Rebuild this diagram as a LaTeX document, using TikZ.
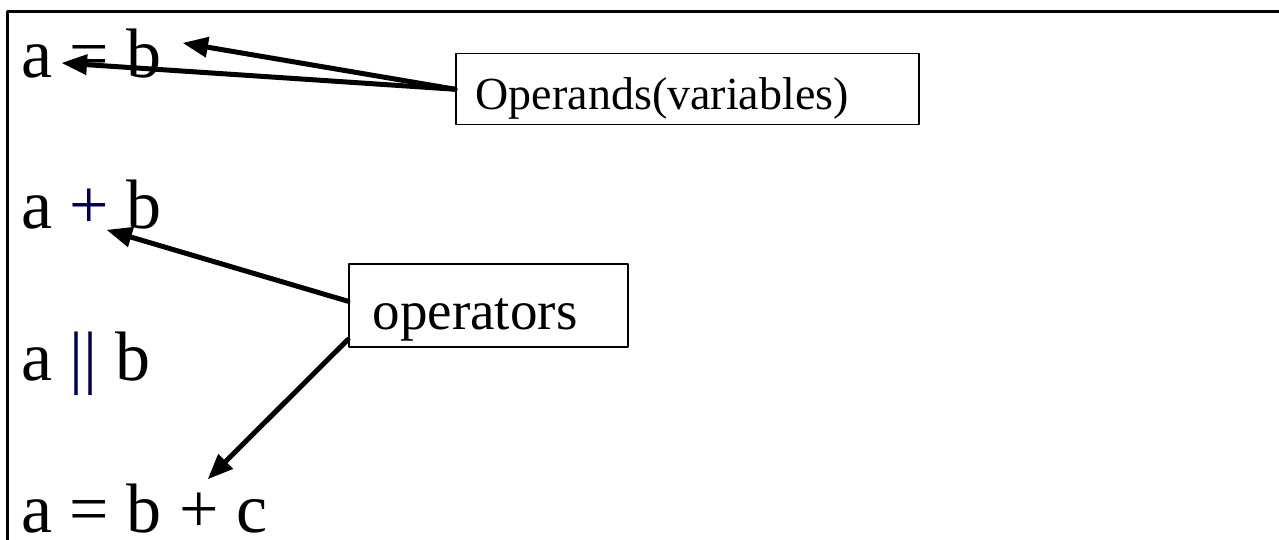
\documentclass[tikz,border=0pt]{standalone}
\usepackage{fontspec}
\setmainfont{Liberation Serif}
\usetikzlibrary{arrows}
\definecolor{opblue}{RGB}{0,0,90}

\begin{document}
\begin{tikzpicture}[line cap=round,line join=round,>=triangle 45,x=1pt,y=-1pt]
        \tikzset{expr/.style={anchor=base west,inner sep=0pt,font=\fontsize{70}{80}\selectfont},
          note/.style={draw,line width=1.5pt,anchor=north west,align=left,inner ysep=0pt}}
        \useasboundingbox (0,0) rectangle (1279,540);
        \draw[line width=3pt,line cap=butt] (7,540) -- (7,12) -- (1279,12);
        \node[expr] (assign) at (21,78) {a = b};
        \node[expr] (plus) at (21,228) {a {\color{opblue}+} b};
        \node[expr] (orop) at (21,380) {a {\color{opblue}||} b};
        \node[expr] (sum) at (21,532) {a = b + c};
        \node[note,text height=56pt,text depth=15pt,text width=423pt,inner xsep=20pt,font=\fontsize{46}{52}\selectfont] (operands) at (455,53) {Operands(variables)};
        \node[note,text height=66pt,text depth=17pt,text width=231pt,inner xsep=24pt,font=\fontsize{55}{62}\selectfont] (operators) at (348,263) {operators};
        \coordinate (tipb) at (183,43);
        \coordinate (tipa) at (62,63);
        \coordinate (tipplus) at (107,230);
        \coordinate (tipc) at (208,479);
        \draw[->,line width=5pt] (operands.west) -- (tipb);
        \draw[->,line width=5pt] (operands.west) -- (tipa);
        \draw[->,line width=5pt] ([yshift=4pt]operators.west) -- (tipplus);
        \draw[->,line width=5pt] ([yshift=8pt]operators.south west) -- (tipc);
\end{tikzpicture}
\end{document}
